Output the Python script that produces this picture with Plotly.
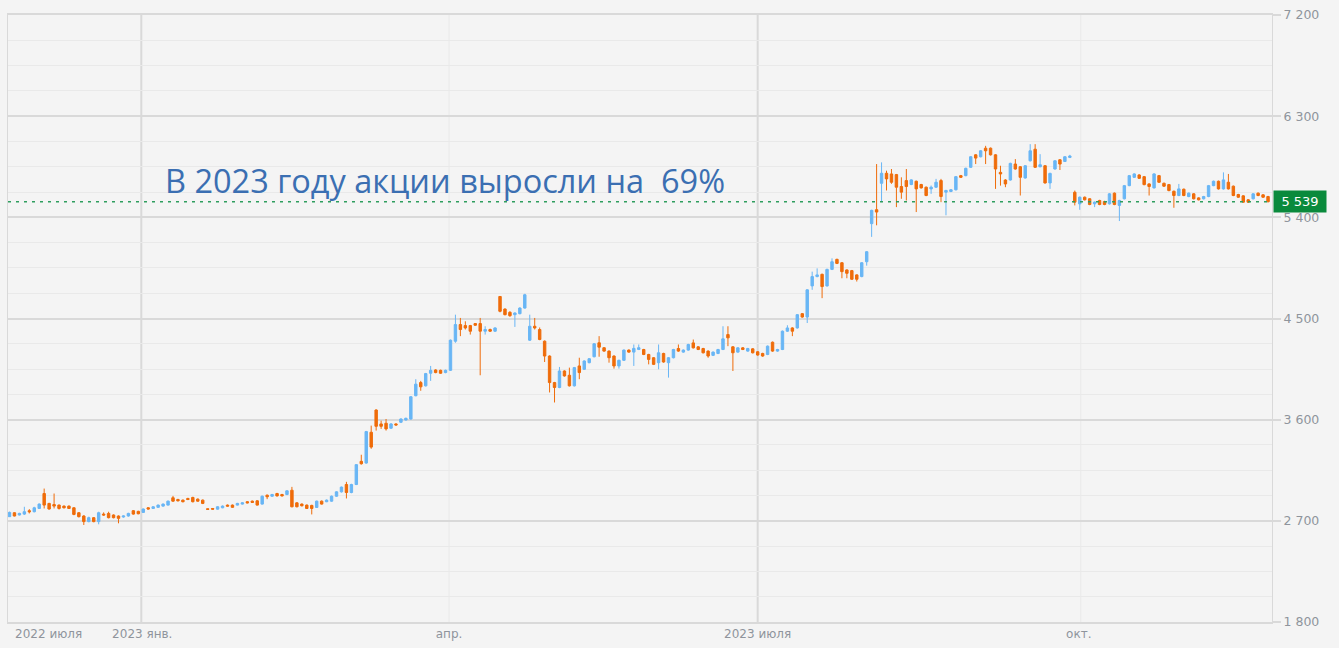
import numpy as np
import plotly.graph_objects as go

# ---- data (OHLC, RUB) ----
opens = [2737,2772,2752,2760,2790,2781,2810,2943,2855,2845,2840,2831,2831,2816,2772,2743,2693,2728,2693,2760,
         2766,2752,2743,2734,2743,2790,2784,2775,2816,2810,2820,2831,2840,2905,2890,2884,2899,2908,2893,2884,
         2807,2810,2804,2816,2840,2840,2840,2849,2870,2875,2878,2849,2928,2919,2943,2934,2934,2972,2860,2849,
         2840,2837,2819,2875,2870,2875,2919,2958,3023,2952,3023,3229,3214,3488,3686,3562,3568,3524,3562,3577,
         3597,3606,3813,3930,3901,4013,4042,4039,4019,4039,4298,4446,4437,4437,4455,4455,4387,4402,4387,4696,
         4584,4555,4534,4543,4593,4307,4431,4402,4298,4166,3930,3886,4033,3995,3901,4078,4048,4107,4160,4284,
         4240,4210,4166,4078,4128,4219,4201,4225,4224,4180,4151,4107,4189,4107,4151,4233,4201,4219,4283,4248,
         4233,4210,4172,4189,4224,4357,4248,4201,4239,4210,4230,4204,4189,4180,4289,4210,4224,4387,4416,4416,
         4543,4513,4790,4873,4893,4790,4937,5026,4996,4932,4926,4888,4873,5005,5344,5468,5703,5792,5786,5780,
         5674,5727,5692,5721,5692,5668,5653,5668,5727,5624,5630,5645,5771,5771,5845,5956,5939,6015,6015,5956,
         5800,5732,5732,5874,5850,5750,5903,6006,5850,5859,5706,5830,5912,5897,5933,5623,5520,5579,5565,5520,
         5550,5541,5520,5615,5506,5565,5682,5756,5777,5762,5697,5662,5771,5703,5691,5632,5594,5650,5585,5609,
         5573,5565,5585,5682,5721,5653,5712,5677,5603,5591,5556,5565,5615,5600,5585]
highs = [2782,2776,2772,2825,2804,2825,2855,2987,2860,2943,2845,2837,2837,2822,2778,2750,2737,2734,2781,2775,
         2781,2757,2748,2748,2772,2796,2790,2810,2822,2830,2845,2855,2881,2922,2896,2890,2905,2914,2899,2890,
         2810,2814,2830,2837,2845,2845,2860,2866,2875,2881,2884,2925,2934,2940,2949,2940,2972,3002,2866,2855,
         2845,2843,2880,2881,2890,2925,2963,3005,3047,3030,3205,3288,3500,3547,3692,3591,3606,3570,3568,3612,
         3618,3810,3960,3945,4016,4078,4048,4045,4045,4313,4534,4505,4475,4443,4460,4505,4431,4410,4422,4700,
         4590,4565,4555,4600,4720,4534,4505,4420,4305,4172,3936,4069,4039,4063,4069,4151,4128,4148,4281,4343,
         4245,4216,4172,4134,4225,4225,4269,4269,4230,4186,4157,4269,4195,4157,4230,4269,4225,4275,4313,4254,
         4239,4216,4207,4230,4431,4431,4254,4245,4245,4239,4236,4210,4195,4260,4295,4230,4393,4440,4422,4540,
         4549,4761,4917,4946,4899,4943,5035,5032,5002,4937,4932,4893,5002,5100,5468,5874,5889,5815,5830,5786,
         5756,5830,5739,5727,5698,5674,5683,5742,5742,5645,5651,5768,5777,5842,5945,5962,5998,6036,6021,5962,
         5859,5739,5886,5918,5856,5865,6051,6051,5962,5865,5797,5909,5918,5945,5956,5638,5585,5585,5570,5541,
         5556,5547,5615,5621,5556,5688,5777,5792,5783,5768,5703,5792,5777,5709,5697,5638,5697,5656,5621,5615,
         5579,5591,5688,5727,5727,5800,5786,5683,5609,5597,5562,5615,5621,5606,5591]
lows = [2734,2740,2748,2752,2766,2775,2805,2810,2800,2810,2800,2810,2805,2750,2730,2663,2687,2687,2669,2745,
        2722,2722,2678,2728,2737,2755,2758,2770,2800,2805,2816,2825,2837,2870,2872,2864,2884,2864,2870,2849,
        2800,2800,2800,2812,2827,2816,2837,2845,2855,2860,2837,2845,2893,2914,2916,2916,2928,2820,2820,2828,
        2805,2757,2815,2845,2866,2870,2914,2952,2899,2945,3018,3200,3208,3341,3503,3518,3503,3518,3547,3570,
        3592,3600,3808,3857,3895,3945,4013,4008,4013,4033,4284,4343,4402,4357,4435,3995,4357,4380,4380,4555,
        4528,4515,4425,4537,4588,4300,4402,4307,4113,3842,3753,3880,3983,3895,3895,3960,4042,4101,4154,4160,
        4204,4107,4054,4054,4122,4195,4078,4219,4174,4092,4086,4048,4107,3974,4145,4204,4195,4213,4233,4219,
        4189,4151,4166,4183,4219,4254,4033,4195,4219,4204,4189,4169,4160,4174,4204,4204,4219,4381,4343,4410,
        4507,4460,4755,4867,4681,4784,4931,4984,4858,4858,4843,4829,4867,4970,5226,5329,5535,5639,5698,5491,
        5565,5550,5686,5447,5656,5588,5609,5662,5535,5418,5624,5639,5750,5765,5839,5874,5933,5874,5950,5653,
        5682,5668,5727,5824,5594,5745,5897,5839,5845,5700,5653,5824,5821,5892,5927,5506,5467,5550,5508,5491,
        5508,5508,5514,5508,5367,5559,5677,5750,5742,5685,5594,5656,5706,5671,5632,5485,5588,5588,5579,5559,
        5550,5559,5579,5677,5647,5647,5647,5588,5573,5529,5529,5559,5588,5573,5533]
closes = [2775,2743,2766,2781,2781,2816,2849,2840,2805,2831,2810,2816,2810,2757,2737,2693,2728,2693,2772,2752,
          2728,2728,2722,2743,2766,2760,2763,2805,2805,2825,2840,2849,2875,2875,2878,2870,2890,2870,2875,2855,
          2802,2804,2825,2831,2831,2820,2855,2860,2860,2864,2840,2919,2914,2934,2922,2922,2967,2825,2825,2834,
          2810,2810,2875,2849,2884,2919,2958,3000,2952,3023,3200,3208,3494,3356,3541,3541,3518,3562,3553,3606,
          3612,3804,3916,3892,4010,4039,4019,4013,4039,4307,4446,4402,4416,4387,4440,4387,4402,4387,4416,4564,
          4534,4525,4549,4593,4711,4431,4416,4313,4166,3930,3886,4033,3989,3901,4063,4019,4122,4142,4275,4245,
          4210,4151,4078,4128,4219,4201,4234,4240,4180,4136,4092,4195,4113,4151,4224,4210,4219,4269,4239,4224,
          4195,4166,4201,4224,4319,4328,4195,4239,4224,4233,4195,4175,4166,4254,4210,4224,4387,4416,4387,4534,
          4513,4755,4873,4888,4784,4937,5005,4990,4917,4902,4849,4849,4996,5094,5462,5447,5792,5742,5712,5668,
          5624,5674,5733,5653,5662,5594,5668,5712,5585,5639,5645,5762,5756,5836,5939,5927,5992,5992,5956,5830,
          5786,5697,5880,5830,5756,5859,5992,5845,5868,5706,5791,5903,5874,5939,5945,5535,5579,5556,5514,5535,
          5514,5514,5609,5514,5550,5682,5771,5786,5747,5691,5674,5786,5712,5677,5638,5594,5653,5594,5615,5565,
          5556,5585,5682,5721,5653,5733,5653,5594,5579,5535,5535,5609,5594,5579,5539]

# axis labels
x_tick_labels = ["2022 июля", "2023 янв.", "апр.", "2023 июля", "окт."]
x_tick_at = [7.9, 26.8, 88.7, 151.0, 215.8]          # candle index where each label sits
x_grid_at = [26.6, 88.7, 151.0, 216.2]               # month boundaries drawn as grid lines
x_grid_major = [True, False, True, False]
y_ticks = [1800, 2700, 3600, 4500, 5400, 6300, 7200]
y_tick_text = ["1 800", "2 700", "3 600", "4 500", "5 400", "6 300", "7 200"]
last_price = 5539
headline = "В 2023 году акции выросли на  69%"

UP = "#69b6f5"
DOWN = "#ef6c0a"
BG = "#f4f4f4"
GRID = "#d9d9d9"
MINOR = "#e9e9e9"

x = np.arange(len(opens))

fig = go.Figure(go.Candlestick(
    x=x, open=opens, high=highs, low=lows, close=closes,
    increasing=dict(line=dict(color=UP, width=1), fillcolor=UP),
    decreasing=dict(line=dict(color=DOWN, width=1), fillcolor=DOWN),
    whiskerwidth=0, showlegend=False, hoverinfo="skip",
))

shapes = []
for gx, major in zip(x_grid_at, x_grid_major):
    shapes.append(dict(type="line", xref="x", yref="paper", x0=gx, x1=gx, y0=0, y1=1,
                       line=dict(color=GRID if major else MINOR, width=2 if major else 1), layer="below"))
shapes.append(dict(type="line", xref="paper", yref="y", x0=0, x1=1, y0=last_price, y1=last_price,
                   line=dict(color="#2f9e5f", width=1.5, dash="3px,5px"), layer="above"))

fig.update_layout(
    width=1339, height=648,
    margin=dict(l=7, r=67, t=12, b=26),
    paper_bgcolor=BG, plot_bgcolor=BG,
    shapes=shapes,
    xaxis=dict(
        range=[-0.3, 254.8], rangeslider=dict(visible=False),
        showgrid=False, zeroline=False,
        tickmode="array", tickvals=x_tick_at, ticktext=x_tick_labels,
        ticks="", tickfont=dict(family="DejaVu Sans", size=12, color="#8f949c"),
        showline=True, linecolor=GRID, linewidth=2, mirror=True,
    ),
    yaxis=dict(
        side="right", range=[1800, 7200],
        tickmode="array", tickvals=y_ticks, ticktext=y_tick_text,
        showgrid=True, gridcolor=GRID, gridwidth=2, zeroline=False,
        ticks="outside", ticklen=8, tickcolor=GRID, tickwidth=2,
        tickfont=dict(family="DejaVu Sans", size=12.5, color="#8f949c"),
        showline=True, linecolor=GRID, linewidth=1, mirror=True,
        minor=dict(tickmode="linear", tick0=1800, dtick=225, showgrid=True,
                   gridcolor=MINOR, gridwidth=1, ticks=""),
    ),
    annotations=[
        dict(xref="paper", yref="y", x=0.1225, y=5725, xanchor="left", yanchor="middle",
             text=headline, showarrow=False,
             font=dict(family="Open Sans", size=32.5, color="#3b6fb2")),
        dict(xref="paper", yref="y", x=1.0, y=last_price, xanchor="left", yanchor="middle",
             xshift=1, text="5 539", showarrow=False, width=50, height=19,
             bgcolor="#0a8a3c", font=dict(family="DejaVu Sans", size=13, color="white")),
    ],
)

fig.write_html("out.html", config={"displayModeBar": False},
               post_script="document.body.style.margin='0';document.body.style.overflow='hidden';")
